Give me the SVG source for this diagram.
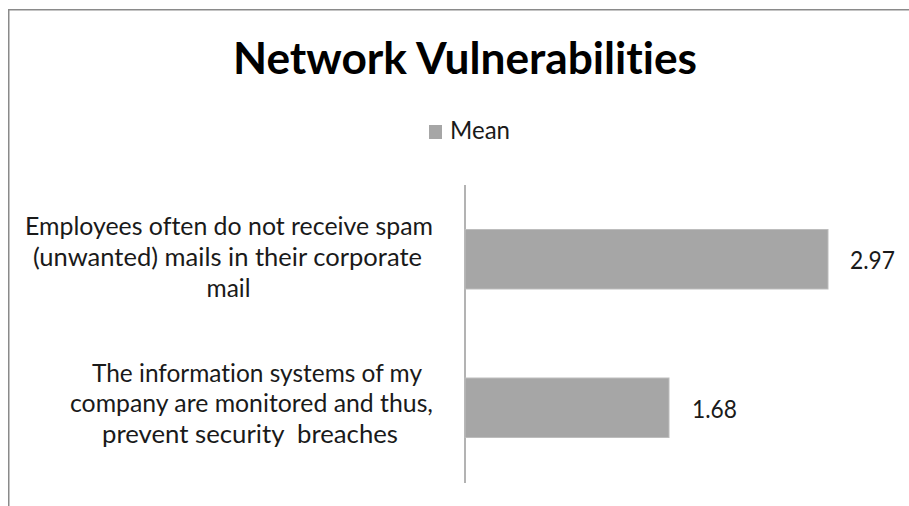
<svg xmlns="http://www.w3.org/2000/svg" width="909" height="506" viewBox="0 0 909 506">
  <style>
    text { font-variant-ligatures: none; font-feature-settings: "liga" 0, "clig" 0; }
    .lbl { font-family: Lato, "Open Sans", "Liberation Sans", sans-serif; font-size: 25px; fill: #1a1a1a; text-anchor: middle; }
    .val { font-family: Lato, "Open Sans", "Liberation Sans", sans-serif; font-size: 25px; fill: #1a1a1a; }
    .title { font-family: Lato, "Open Sans", "Liberation Sans", sans-serif; font-size: 44px; font-weight: bold; fill: #000; text-anchor: middle; }
    .bar { fill: #a6a6a6; stroke: #bdbdbd; stroke-width: 1; }
  </style>
  <rect x="0" y="0" width="909" height="506" fill="#fff"/>
  <g id="frame">
    <path d="M8.75 506 V9.75 H909" fill="none" stroke="#8a8a8a" stroke-width="1.5"/>
  </g>
  <g id="title">
    <text class="title" x="465" y="74" textLength="464" lengthAdjust="spacingAndGlyphs">Network Vulnerabilities</text>
  </g>
  <g id="legend">
    <rect x="429" y="125" width="13" height="14" fill="#a6a6a6"/>
    <text class="val" x="450" y="139" textLength="60" lengthAdjust="spacingAndGlyphs">Mean</text>
  </g>
  <g id="connectors">
    <line x1="465" y1="185" x2="465" y2="483" stroke="#9a9a9a" stroke-width="1.5"/>
  </g>
  <g id="cat1">
    <text class="lbl" x="229" y="235" textLength="408" lengthAdjust="spacingAndGlyphs">Employees often do not receive spam</text>
    <text class="lbl" x="227.5" y="266" textLength="389" lengthAdjust="spacingAndGlyphs">(unwanted) mails in their corporate</text>
    <text class="lbl" x="228.5" y="297" textLength="44" lengthAdjust="spacingAndGlyphs">mail</text>
  </g>
  <g id="cat2">
    <text class="lbl" x="257" y="382" textLength="330" lengthAdjust="spacingAndGlyphs">The information systems of my</text>
    <text class="lbl" x="251.5" y="412" textLength="363" lengthAdjust="spacingAndGlyphs">company are monitored and thus,</text>
    <text class="lbl" x="250" y="443" textLength="296" lengthAdjust="spacingAndGlyphs" xml:space="preserve">prevent security  breaches</text>
  </g>
  <g id="bar1">
    <rect class="bar" x="465" y="229.5" width="363" height="59.5"/>
    <text class="val" x="850" y="269" textLength="45" lengthAdjust="spacingAndGlyphs">2.97</text>
  </g>
  <g id="bar2">
    <rect class="bar" x="465" y="378" width="204" height="59.5"/>
    <text class="val" x="692" y="418" textLength="45" lengthAdjust="spacingAndGlyphs">1.68</text>
  </g>
</svg>
